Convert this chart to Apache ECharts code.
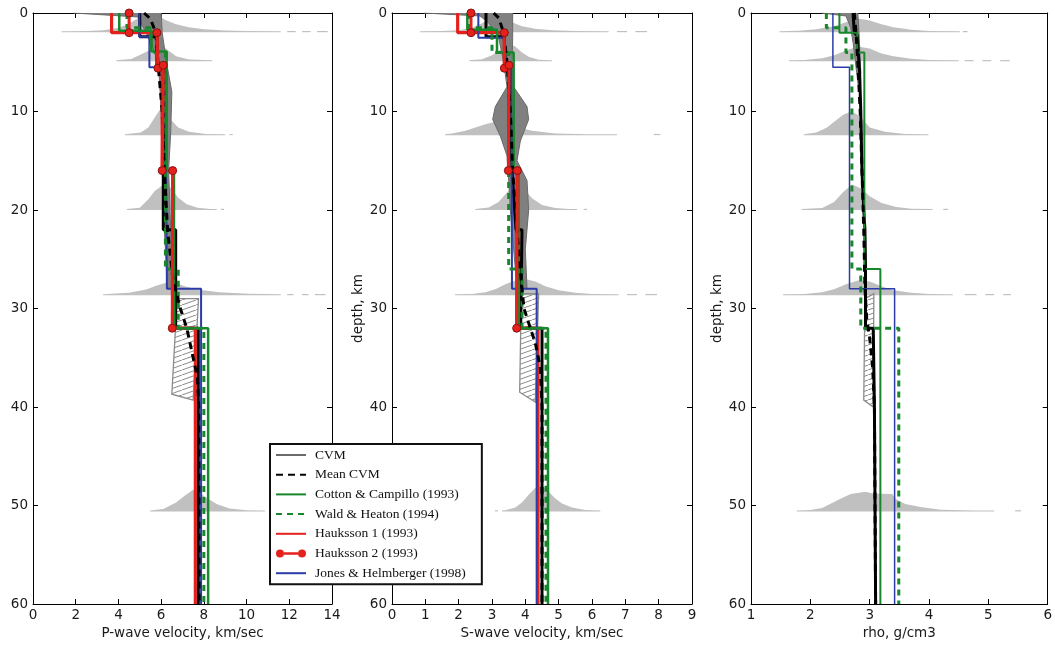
<!DOCTYPE html>
<html><head><meta charset="utf-8">
<script src="https://cdn.jsdelivr.net/npm/echarts@6/dist/echarts.min.js"></script>
<style>html,body{margin:0;padding:0;background:#fff}#c{width:1055px;height:646px}</style>
</head><body><div id="c"></div><script>
// ================= DATA =================
const histDepths = [1.95, 4.9, 12.4, 20.0, 28.65, 50.6];
// histogram envelopes: [velocity, height above baseline (km)]
const pHists = [
  [[1.34,0.1],[2.5,0.12],[3.3,0.2],[3.9,0.4],[4.4,0.75],[4.9,1.4],[5.3,1.9],[5.8,1.8],[6.2,1.25],[6.7,0.8],[7.3,0.5],[8.0,0.3],[9.0,0.18],[10.0,0.12],[11.6,0.1]],
  [[3.9,0.1],[4.6,0.24],[5.05,0.68],[5.5,1.18],[5.75,1.5],[6.1,1.5],[6.4,1.0],[6.7,0.5],[7.3,0.17],[8.4,0.1]],
  [[4.3,0.1],[5.05,0.27],[5.4,0.78],[5.7,1.8],[5.95,2.6],[6.17,2.3],[6.5,1.45],[6.8,0.78],[7.3,0.34],[8.1,0.12],[9.0,0.1]],
  [[4.39,0.1],[5.0,0.24],[5.4,1.08],[5.7,1.93],[6.05,2.5],[6.3,2.6],[6.5,2.1],[6.8,1.25],[7.2,0.58],[7.7,0.24],[8.3,0.1],[8.6,0.1]],
  [[3.28,0.1],[4.5,0.24],[5.3,0.57],[5.8,0.98],[6.2,1.25],[6.6,1.32],[7.1,0.91],[7.7,0.57],[8.7,0.3],[10.1,0.15],[11.6,0.1]],
  [[5.48,0.1],[6.1,0.24],[6.7,0.91],[7.1,1.59],[7.5,2.2],[7.8,1.93],[8.1,1.42],[8.6,0.74],[9.2,0.3],[10.0,0.12],[10.86,0.1]]
];
const pTails = [[0,11.9,12.3],[0,12.6,13.0],[0,13.3,13.8],[2,9.2,9.35],[3,8.8,8.95],[4,11.9,12.2],[4,12.6,12.9],[4,13.2,13.7]];
const sHists = [
  [[0.84,0.1],[1.5,0.12],[2.0,0.2],[2.4,0.45],[2.7,0.9],[3.0,1.5],[3.3,1.6],[3.6,1.0],[3.9,0.6],[4.3,0.35],[4.8,0.2],[5.5,0.12],[6.5,0.1]],
  [[2.32,0.1],[2.7,0.2],[3.0,0.6],[3.3,1.3],[3.5,1.8],[3.7,1.5],[3.9,0.9],[4.1,0.45],[4.4,0.15],[4.8,0.1]],
  [[1.59,0.1],[1.8,0.17],[2.2,0.44],[2.5,0.78],[2.8,1.1],[3.1,1.35],[3.4,1.29],[3.8,0.78],[4.2,0.44],[4.9,0.17],[5.9,0.1],[6.75,0.1]],
  [[2.5,0.1],[2.9,0.25],[3.2,0.8],[3.4,1.6],[3.6,2.3],[3.8,2.6],[4.0,2.0],[4.2,1.2],[4.5,0.5],[4.9,0.2],[5.3,0.1],[5.55,0.1]],
  [[1.89,0.1],[2.4,0.12],[2.8,0.3],[3.1,0.6],[3.4,1.1],[3.7,1.5],[4.0,1.65],[4.3,1.4],[4.6,0.9],[5.0,0.5],[5.5,0.25],[6.0,0.12],[6.8,0.1]],
  [[3.3,0.1],[3.4,0.12],[3.7,0.4],[3.9,0.9],[4.1,1.7],[4.3,2.4],[4.5,2.6],[4.7,2.0],[4.9,1.3],[5.1,0.8],[5.4,0.4],[5.8,0.15],[6.25,0.1]]
];
const sTails = [[0,6.75,7.05],[0,7.3,7.65],[2,7.85,8.05],[3,5.75,5.85],[4,7.05,7.35],[4,7.6,7.95],[5,3.09,3.18]];
const rHists = [
  [[1.48,0.1],[1.8,0.14],[2.1,0.3],[2.4,0.6],[2.6,1.0],[2.8,1.4],[3.0,1.2],[3.2,0.8],[3.4,0.5],[3.7,0.25],[4.0,0.12],[4.52,0.1]],
  [[1.64,0.1],[1.9,0.12],[2.2,0.3],[2.4,0.6],[2.6,1.1],[2.8,1.5],[3.0,1.3],[3.2,0.8],[3.4,0.5],[3.7,0.25],[4.0,0.12],[4.5,0.1]],
  [[1.89,0.1],[2.1,0.27],[2.28,0.78],[2.45,1.6],[2.56,2.1],[2.68,2.37],[2.79,2.1],[2.9,1.45],[3.0,0.78],[3.26,0.34],[3.6,0.12],[3.99,0.1]],
  [[1.85,0.1],[2.2,0.2],[2.4,0.8],[2.55,1.8],[2.7,2.6],[2.85,2.2],[3.0,1.4],[3.2,0.7],[3.45,0.3],[3.7,0.12],[4.06,0.1]],
  [[1.54,0.1],[1.9,0.12],[2.2,0.3],[2.4,0.6],[2.6,1.1],[2.8,1.5],[3.0,1.4],[3.2,0.9],[3.4,0.5],[3.7,0.25],[4.0,0.12],[4.4,0.1]],
  [[1.77,0.1],[2.0,0.15],[2.2,0.34],[2.5,1.25],[2.68,1.76],[2.93,2.0],[3.05,1.83],[3.38,1.76],[3.44,1.25],[3.6,0.74],[3.88,0.41],[4.2,0.17],[4.8,0.1],[5.1,0.1]]
];
const rTails = [[0,4.57,4.65],[1,4.6,4.75],[1,4.9,5.05],[1,5.2,5.36],[3,4.24,4.32],[4,4.6,4.8],[4,4.95,5.1],[4,5.25,5.38],[5,5.45,5.55]];

// CVM spread (left edge, right edge), [value, depth]
const cvmPLeft  = [[1.9,0],[4.9,0.4],[5.3,2],[5.7,4],[5.9,6],[6.0,10],[6.05,16],[6.15,22],[6.3,28]];
const cvmPRight = [[6.0,0],[6.05,2],[6.25,5],[6.5,8],[6.45,12],[6.35,16],[6.45,22],[6.55,28]];
const cvmSLeft  = [[0.95,0],[2.64,0.3],[2.9,1],[3.2,2.5],[3.35,5],[3.45,7.5],[3.1,9.5],[3.02,10.8],[3.25,12.5],[3.45,14.5],[3.5,17],[3.55,20],[3.65,24],[3.75,28]];
const cvmSRight = [[3.62,0],[3.62,2.5],[3.6,5],[3.65,7.5],[4.05,9.5],[4.1,10.8],[3.85,13],[3.75,15],[4.05,17],[4.1,20],[4.0,24],[4.05,28]];
const cvmRLeft  = [[2.19,0],[2.6,0.3],[2.68,1.5],[2.72,3],[2.78,6],[2.82,8]];
const cvmRRight = [[2.8,0],[2.82,2],[2.85,6],[2.82,8]];
// hatched ranges
const hatchP = [[6.75,29],[7.75,29],[7.5,39.3],[6.5,38.7]];
const hatchS = [[3.88,28.5],[4.4,28.5],[4.3,39.5],[3.83,38.5]];
const hatchR = [[2.92,29],[3.07,28.5],[3.06,40],[2.9,39.3]];

// profiles [value, depth]
const blackP = [[5.0,0],[5.0,2.4],[5.8,2.4],[5.8,5.5],[6.1,5.5],[6.1,22],[6.68,22],[6.68,32],[7.74,32],[7.74,60]];
const meanP  = [[5.2,0],[5.5,0.6],[5.75,2],[5.85,5],[6.05,10],[6.15,16],[6.3,22],[6.55,27],[6.9,30],[7.2,32],[7.45,34.5],[7.7,37],[7.76,40],[7.78,60]];
const ccP    = [[4.04,0],[4.04,1.8],[5.55,1.8],[5.55,3.9],[6.26,3.9],[6.26,16],[6.6,16],[6.6,32],[8.2,32],[8.2,60]];
const whP    = [[4.4,0],[4.4,1.5],[5.5,1.5],[5.5,4],[6.2,4],[6.2,26],[6.8,26],[6.8,32],[8.0,32],[8.0,60]];
const h1P    = [[3.68,0],[3.68,2],[5.8,2],[5.8,5.5],[6.05,5.5],[6.05,16],[6.54,16],[6.6,32],[7.6,32],[7.6,60]];
const h2P    = [[[4.5,0],[4.5,2]],[[5.8,2],[5.85,5.6]],[[6.1,5.3],[6.05,16]],[[6.54,16],[6.52,32]]];
const jhP    = [[4.98,0],[4.98,2.4],[5.45,2.4],[5.45,5.5],[6.2,5.5],[6.27,28],[7.87,28],[7.87,60]];

const blackS = [[2.82,0],[2.82,2.4],[3.37,2.4],[3.4,5.5],[3.52,5.5],[3.6,16],[3.72,22],[3.9,22],[3.86,32],[4.5,32],[4.5,60]];
const meanS  = [[3.05,0],[3.2,0.5],[3.35,2],[3.45,5],[3.55,10],[3.62,16],[3.72,21],[3.82,25],[3.9,28],[3.96,30],[4.15,32],[4.3,33.5],[4.45,36],[4.5,40],[4.5,60]];
const ccS    = [[2.26,0],[2.26,1.7],[3.15,1.7],[3.15,4],[3.65,4],[3.65,16],[3.8,16],[3.8,32],[4.68,32],[4.68,60]];
const whS    = [[2.3,0],[2.3,1.5],[3.0,1.5],[3.0,4],[3.5,4],[3.5,26],[3.9,26],[3.9,32],[4.62,32],[4.62,60]];
const h1S    = [[1.97,0],[1.97,2],[3.37,2],[3.37,5.5],[3.5,5.5],[3.5,16],[3.76,16],[3.74,32],[4.38,32],[4.38,60]];
const h2S    = [[[2.37,0],[2.37,2]],[[3.37,2],[3.37,5.6]],[[3.51,5.3],[3.49,16]],[[3.76,16],[3.74,32]]];
const jhS    = [[2.59,0],[2.59,2.5],[3.38,2.5],[3.38,5.5],[3.58,5.5],[3.6,28],[4.34,28],[4.34,60]];

const blackR = [[2.72,0],[2.74,2],[2.79,2.3],[2.83,6],[2.85,10],[2.87,16],[2.9,20],[2.92,22],[2.93,26],[2.93,32],[3.06,32],[3.08,40],[3.1,60]];
const meanR  = [[2.74,0],[2.77,2],[2.8,5],[2.84,10],[2.87,16],[2.9,22],[2.92,28],[2.95,31],[3.0,33],[3.05,36],[3.08,40],[3.1,60]];
const ccR    = [[2.49,0],[2.49,2],[2.79,2],[2.79,4],[2.91,4],[2.91,26],[3.18,26],[3.18,60]];
const whR    = [[2.27,0],[2.27,1.5],[2.6,1.5],[2.6,4],[2.7,4],[2.7,26],[2.85,26],[2.85,32],[3.49,32],[3.49,60]];
const jhR    = [[2.38,0],[2.38,5.5],[2.66,5.5],[2.66,28],[3.42,28],[3.42,60]];

const xNames = ['P-wave velocity, km/sec', 'S-wave velocity, km/sec', 'rho, g/cm3'];
const legendNames = ['CVM','Mean CVM','Cotton & Campillo (1993)','Wald & Heaton (1994)','Hauksson 1 (1993)','Hauksson 2 (1993)','Jones & Helmberger (1998)'];

// ================= STYLE / BUILD =================
const COL = {red:'#e4211c', green:'#17862c', blue:'#2b3ca8', black:'#000', hist:'#c0c0c0', band:'#808080', cvm:'#6a6a6a'};
const FONT = 'DejaVu Sans';
const FS = 13.5;
const hc = document.createElement('canvas'); hc.width = 14; hc.height = 5;
(function(){const g=hc.getContext('2d'); g.strokeStyle='#8a8a8a'; g.lineWidth=1; g.beginPath(); g.moveTo(0,5); g.lineTo(14,0); g.stroke();})();

const grids = [
  {left:33, top:13, width:299, height:591},
  {left:392, top:13, width:300, height:591},
  {left:751, top:13, width:299, height:591}
];
const xr = [[0,14,2],[0,9,1],[1,6,1]];
const axLine = {show:true, onZero:false, lineStyle:{color:'#000', width:1}};
const tick = {show:true, inside:true, length:5, lineStyle:{color:'#000'}};
const xAxis = [], yAxis = [];
grids.forEach((g,i)=>{
  xAxis.push({type:'value', gridIndex:i, min:xr[i][0], max:xr[i][1], interval:xr[i][2], position:'bottom',
    axisLine:axLine, axisTick:tick, splitLine:{show:false},
    axisLabel:{fontFamily:FONT, fontSize:FS, color:'#1a1a1a', margin:4},
    name:xNames[i], nameLocation:'middle', nameGap:21, nameTextStyle:{fontFamily:FONT, fontSize:FS, color:'#1a1a1a'}});
  xAxis.push({type:'value', gridIndex:i, min:xr[i][0], max:xr[i][1], interval:xr[i][2], position:'top',
    axisLine:axLine, axisTick:tick, splitLine:{show:false}, axisLabel:{show:false}});
  yAxis.push(Object.assign({type:'value', gridIndex:i, min:0, max:60, interval:10, inverse:true, position:'left',
    axisLine:axLine, axisTick:tick, splitLine:{show:false},
    axisLabel:{fontFamily:FONT, fontSize:FS, color:'#1a1a1a', margin:5}},
    i>0 ? {name:'depth, km', nameLocation:'middle', nameGap:15, nameTextStyle:{fontFamily:FONT, fontSize:FS, color:'#1a1a1a'}} : {}));
  yAxis.push({type:'value', gridIndex:i, min:0, max:60, interval:10, inverse:true, position:'right',
    axisLine:axLine, axisTick:tick, splitLine:{show:false}, axisLabel:{show:false}});
});

const series = [];
function line(i, name, data, color, width, dash, z){
  series.push({type:'line', name:name, xAxisIndex:2*i, yAxisIndex:2*i, data:data, symbol:'none', showSymbol:false,
    lineStyle:{color:color, width:width, type:dash||'solid'}, itemStyle:{color:color}, z:z||3, silent:true, animation:false});
}
function poly(i, pts, style, z){
  series.push({type:'custom', xAxisIndex:2*i, yAxisIndex:2*i, silent:true, z:z, animation:false,
    data:[pts[0]], renderItem:(p,api)=>({type:'polygon', shape:{points:pts.map(q=>api.coord(q))}, style:style})});
}
function panel(i, hists, tails, cl, cr, hatch, black, mean, cc, wh, h1, h2, jh, thin){
  series.push({type:'custom', xAxisIndex:2*i, yAxisIndex:2*i, silent:true, z:1, animation:false,
    data: hists.map((h,k)=>[h[0][0], histDepths[k]]),
    renderItem:(p,api)=>{
      const h = hists[p.dataIndex], dep = histDepths[p.dataIndex];
      const pts = [api.coord([h[0][0], dep])];
      h.forEach(q=>pts.push(api.coord([q[0], dep-q[1]])));
      pts.push(api.coord([h[h.length-1][0], dep]));
      return {type:'polygon', shape:{points:pts}, style:{fill:COL.hist}};
    }});
  series.push({type:'custom', xAxisIndex:2*i, yAxisIndex:2*i, silent:true, z:1, animation:false,
    data: tails.map(t=>[t[1], histDepths[t[0]]]),
    renderItem:(p,api)=>{
      const t = tails[p.dataIndex], dep = histDepths[t[0]];
      const a = api.coord([t[1], dep-0.12]), b = api.coord([t[2], dep]);
      return {type:'rect', shape:{x:a[0], y:a[1], width:b[0]-a[0], height:b[1]-a[1]}, style:{fill:COL.hist}};
    }});
  poly(i, cl.concat(cr.slice().reverse()), {fill:COL.band}, 2);
  poly(i, hatch, {fill:{image:hc, repeat:'repeat'}, stroke:'#8c8c8c', lineWidth:1.3}, 2);
  line(i, 'CVM', cl, COL.cvm, 1, 'solid', 2);
  line(i, 'CVM', cr, COL.cvm, 1, 'solid', 2);
  line(i, 'CVM profile', black, COL.black, 3, 'solid', 3);
  if (h1) line(i, 'Hauksson 1 (1993)', h1, COL.red, thin?2:3.2, 'solid', 3);
  line(i, 'Jones & Helmberger (1998)', jh, COL.blue, thin?1.5:2, 'solid', 3);
  line(i, 'Cotton & Campillo (1993)', cc, COL.green, thin?2:2.5, 'solid', 3);
  line(i, 'Wald & Heaton (1994)', wh, COL.green, 3, [6,5], 3);
  line(i, 'Mean CVM', mean, COL.black, 3, [7,5], 4);
  if (h2) h2.forEach(seg=>series.push({type:'line', name:'Hauksson 2 (1993)', xAxisIndex:2*i, yAxisIndex:2*i, data:seg,
    symbol:'circle', symbolSize:8, showSymbol:true, lineStyle:{color:COL.red, width:3},
    itemStyle:{color:COL.red, borderColor:'#8a1212', borderWidth:1}, z:5, silent:true, animation:false}));
}
panel(0, pHists, pTails, cvmPLeft, cvmPRight, hatchP, blackP, meanP, ccP, whP, h1P, h2P, jhP, false);
panel(1, sHists, sTails, cvmSLeft, cvmSRight, hatchS, blackS, meanS, ccS, whS, h1S, h2S, jhS, false);
panel(2, rHists, rTails, cvmRLeft, cvmRRight, hatchR, blackR, meanR, ccR, whR, null, null, jhR, true);

// legend sample for Hauksson 2: dot — line — dot
const h2Icon = 'path://M0,4A4,4 0 1,1 8,4A4,4 0 1,1 0,4Z M8,2.8L22,2.8L22,5.2L8,5.2Z M22,4A4,4 0 1,1 30,4A4,4 0 1,1 22,4Z';
const legendData = legendNames.map(n => n === 'Hauksson 2 (1993)'
  ? {name:n, icon:h2Icon, itemStyle:{opacity:1, color:COL.red, borderWidth:0}}
  : {name:n, itemStyle:{opacity:0}});

const chart = echarts.init(document.getElementById('c'), null, {renderer:'canvas'});
chart.setOption({
  animation:false,
  backgroundColor:'#fff',
  grid:grids, xAxis:xAxis, yAxis:yAxis, series:series,
  legend:{data:legendData, orient:'vertical', left:270, top:444, itemWidth:30, itemHeight:14, itemGap:5.7,
    padding:[4,16,4,5], borderColor:'#111', borderWidth:2, backgroundColor:'#fff', selectedMode:false, z:20,
    textStyle:{fontFamily:'Liberation Serif', fontSize:13.5, color:'#111', padding:[0,0,0,4]}}
});
</script></body></html>
